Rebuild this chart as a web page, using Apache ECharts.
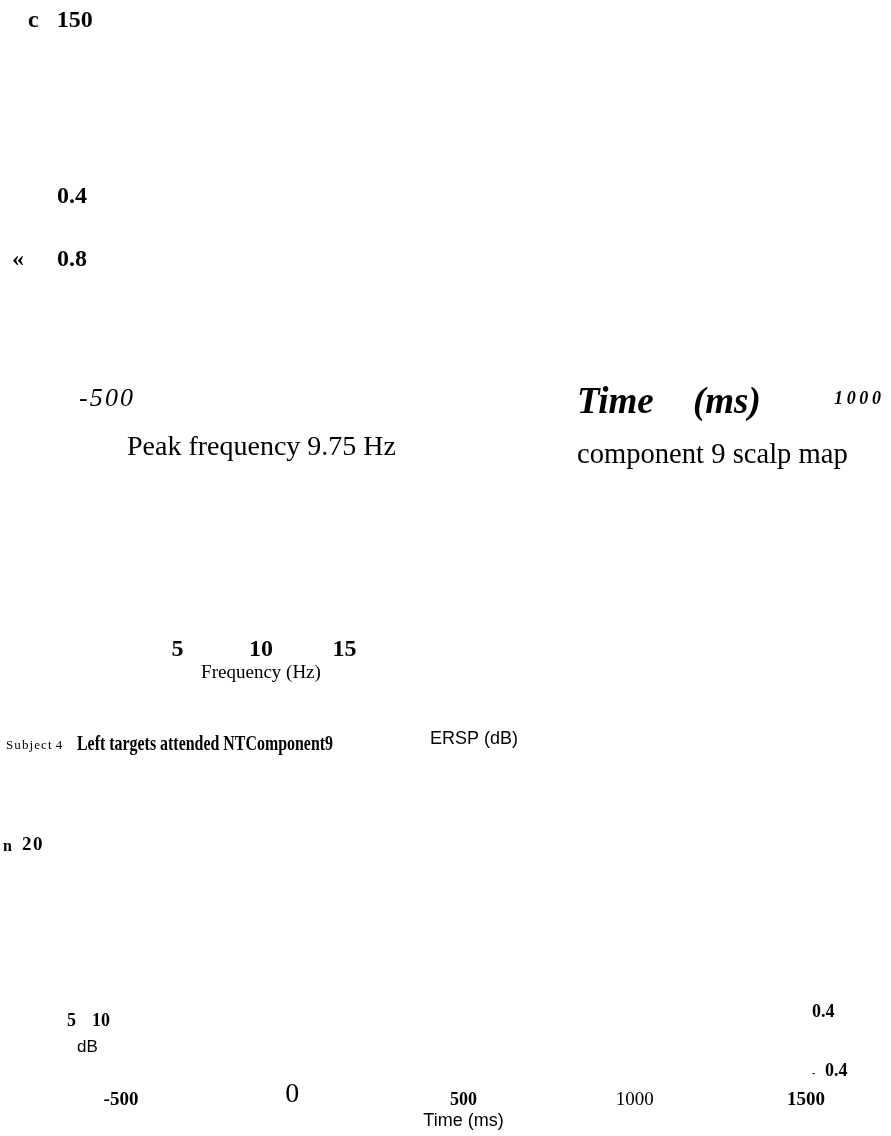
<!DOCTYPE html>
<html>
<head>
<meta charset="utf-8">
<script src="https://cdn.jsdelivr.net/npm/echarts@6/dist/echarts.min.js"></script>
<style>
html,body{margin:0;padding:0;background:#fff;}
#c{width:891px;height:1136px;}
</style>
</head>
<body>
<div id="c"></div>
<script>
// ---- data ----
const timeTicks = [-500, 0, 500, 1000, 1500];
const timeTickStyles = ['bb', 'lt', 'bs', 'rg', 'bb'];
const freqTicks = [5, 10, 15];
const erpTicks = [-500, 1000];
const erpTickStyles = ['it', 'bi'];
const erpLabels = ['-\u200a5\u200a0\u200a0', '1\u20090\u20090\u20090'];
const leftAxisLabels = ['c   150', '0.4', '\u00ab', '0.8'];
const ersScaleLabels = ['5', '10'];
const ersColorLabels = ['0.4', '-', '0.4'];
const titleParts = ['S\u200au\u200ab\u200aj\u200ae\u200ac\u200at\u200a 4', 'Left targets attended NTComponent9'];
const texts = {
  peak: 'Peak frequency 9.75 Hz',
  timeWord: 'Time',
  msWord: '(ms)',
  scalp: 'component 9 scalp map',
  ersp: 'ERSP (dB)',
  n: 'n',
  nVal: '2\u200a0',
  dB: 'dB',
  freqName: 'Frequency (Hz)',
  timeName: 'Time (ms)'
};

const SERIF = 'Liberation Serif';
const SANS = 'Liberation Sans';

const chart = echarts.init(document.getElementById('c'), null, {renderer: 'canvas'});

function T(text, x, y, size, opts) {
  opts = opts || {};
  const el = {
    type: 'text', x: x, y: y,
    style: {
      text: text,
      fontFamily: opts.family || SERIF,
      fontSize: size,
      fontWeight: opts.weight || 'normal',
      fontStyle: opts.style || 'normal',
      fill: '#000',
      align: 'left', textAlign: 'left',
      verticalAlign: 'middle', textVerticalAlign: 'middle'
    }
  };
  if (opts.scaleX) { el.scaleX = opts.scaleX; el.originX = 0; el.originY = 0; }
  return el;
}

// measure the condensed title so it spans the reference extent
const mc = document.createElement('canvas').getContext('2d');
mc.font = 'bold 21px "' + SERIF + '"';
const titleW = mc.measureText(titleParts[1]).width;
const titleScale = 256 / titleW;

const richTime = {
  bb: {fontFamily: SERIF, fontWeight: 'bold', fontSize: 19, color: '#000'},
  lt: {fontFamily: SERIF, fontWeight: 'normal', fontSize: 28, color: '#000', padding: [0, 0, 10, 0]},
  bs: {fontFamily: SERIF, fontWeight: 'bold', fontSize: 18, color: '#000'},
  rg: {fontFamily: SERIF, fontWeight: 'normal', fontSize: 19, color: '#000'}
};
const richErp = {
  it: {fontFamily: SERIF, fontStyle: 'italic', fontSize: 26, color: '#000'},
  bi: {fontFamily: SERIF, fontStyle: 'italic', fontWeight: 'bold', fontSize: 18, color: '#000'}
};

function hiddenAxisBase() {
  return {
    type: 'value',
    axisLine: {show: false},
    axisTick: {show: false},
    splitLine: {show: false}
  };
}

const option = {
  animation: false,
  backgroundColor: '#fff',
  grid: [
    {left: 106, right: 891 - 857.5, top: 398, height: 1, containLabel: false},
    {left: 177.5, right: 891 - 344.5, top: 649, height: 1, containLabel: false},
    {left: 121, right: 891 - 806, top: 1099, height: 1, containLabel: false}
  ],
  xAxis: [
    Object.assign(hiddenAxisBase(), {
      gridIndex: 0, position: 'bottom', min: erpTicks[0], max: erpTicks[1], interval: erpTicks[1] - erpTicks[0],
      axisLabel: {
        margin: 0, verticalAlign: 'middle',
        formatter: function (v) { const i = erpTicks.indexOf(v); return i < 0 ? '' : '{' + erpTickStyles[i] + '|' + erpLabels[i] + '}'; },
        rich: richErp
      }
    }),
    Object.assign(hiddenAxisBase(), {
      gridIndex: 1, position: 'bottom', min: freqTicks[0], max: freqTicks[freqTicks.length - 1], interval: 5,
      name: texts.freqName, nameLocation: 'middle', nameGap: 14,
      nameTextStyle: {fontFamily: SERIF, fontSize: 19, color: '#000', verticalAlign: 'top'},
      axisLabel: {
        margin: 0, verticalAlign: 'middle',
        fontFamily: SERIF, fontWeight: 'bold', fontSize: 24, color: '#000',
        formatter: function (v) { return freqTicks.indexOf(v) < 0 ? '' : String(v); }
      }
    }),
    Object.assign(hiddenAxisBase(), {
      gridIndex: 2, position: 'bottom', min: timeTicks[0], max: timeTicks[timeTicks.length - 1], interval: 500,
      name: texts.timeName, nameLocation: 'middle', nameGap: 12,
      nameTextStyle: {fontFamily: SANS, fontSize: 18, color: '#000', verticalAlign: 'top'},
      axisLabel: {
        margin: 0, verticalAlign: 'middle',
        formatter: function (v) { const i = timeTicks.indexOf(v); return i < 0 ? '' : '{' + timeTickStyles[i] + '|' + v + '}'; },
        rich: richTime
      }
    })
  ],
  yAxis: [
    Object.assign(hiddenAxisBase(), {gridIndex: 0, show: false}),
    Object.assign(hiddenAxisBase(), {gridIndex: 1, show: false}),
    Object.assign(hiddenAxisBase(), {gridIndex: 2, show: false})
  ],
  series: [
    {type: 'line', xAxisIndex: 0, yAxisIndex: 0, data: []},
    {type: 'line', xAxisIndex: 1, yAxisIndex: 1, data: []},
    {type: 'line', xAxisIndex: 2, yAxisIndex: 2, data: []}
  ],
  graphic: {
    elements: [
      T(leftAxisLabels[0], 28, 21, 24, {weight: 'bold'}),
      T(leftAxisLabels[1], 57, 196.5, 24, {weight: 'bold'}),
      T(leftAxisLabels[2], 12, 260, 24, {weight: 'bold'}),
      T(leftAxisLabels[3], 57, 260, 24, {weight: 'bold'}),
      T(texts.peak, 127, 448, 28),
      T(texts.timeWord, 577, 403, 37, {weight: 'bold', style: 'italic'}),
      T(texts.msWord, 693, 403, 37, {weight: 'bold', style: 'italic'}),
      T(texts.scalp, 577, 455, 28.6),
      T(titleParts[0], 6, 746, 13),
      T(titleParts[1], 77, 745, 21, {weight: 'bold', scaleX: titleScale}),
      T(texts.ersp, 430, 739, 18, {family: SANS}),
      T(texts.n, 3, 847, 16, {weight: 'bold'}),
      T(texts.nVal, 22, 845, 19, {weight: 'bold'}),
      T(ersScaleLabels[0], 67, 1021.5, 18, {weight: 'bold'}),
      T(ersScaleLabels[1], 92, 1021.5, 18, {weight: 'bold'}),
      T(texts.dB, 77, 1047.5, 17, {family: SANS}),
      T(ersColorLabels[0], 812, 1012.5, 18, {weight: 'bold'}),
      T(ersColorLabels[1], 812, 1073, 10, {weight: 'bold'}),
      T(ersColorLabels[2], 825, 1071.5, 18, {weight: 'bold'})
    ]
  }
};
chart.setOption(option);
</script>
</body>
</html>
